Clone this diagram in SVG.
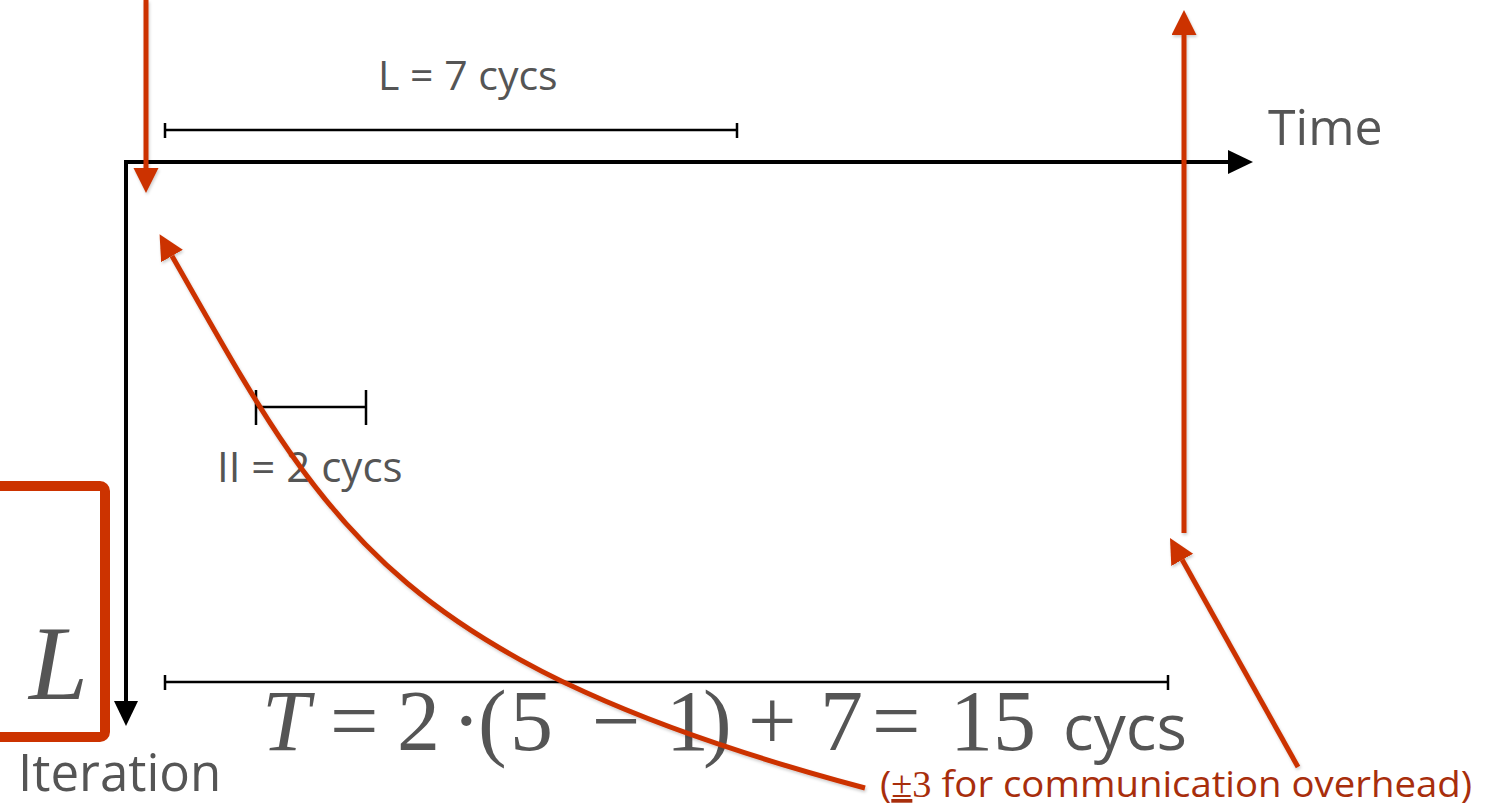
<svg xmlns="http://www.w3.org/2000/svg" width="1493" height="807" viewBox="0 0 1493 807">
<style>
.axis{stroke:#000;stroke-width:4;fill:none}
.dim{stroke:#000;stroke-width:2.5;fill:none}
.red{stroke:#CC3300;stroke-width:5;fill:none;filter:url(#sh)}
.lbl{font-family:"Open Sans","Liberation Sans",sans-serif;fill:#555555}
.math{font-family:"Liberation Serif","DejaVu Serif",serif;fill:#555555}
.note{font-family:"Open Sans","Liberation Sans",sans-serif;fill:#A82E0C}
</style>
<defs>
<filter id="sh" filterUnits="userSpaceOnUse" x="0" y="0" width="1493" height="807">
<feDropShadow dx="1" dy="2" stdDeviation="1.5" flood-color="#000" flood-opacity="0.2"/>
</filter>
<marker id="ab" markerUnits="userSpaceOnUse" markerWidth="26" markerHeight="26" refX="0" refY="12" orient="auto-start-reverse">
<path d="M0,0 L25,12 L0,24 z" fill="#000"/>
</marker>
<marker id="ar" markerUnits="userSpaceOnUse" markerWidth="26" markerHeight="26" refX="0" refY="12.5" orient="auto">
<path d="M0,0 L25,12.5 L0,25 z" fill="#CC3300"/>
</marker>
</defs>

<g id="axes">
<path class="axis" d="M126,701 L126,162 L1228,162" marker-start="url(#ab)" marker-end="url(#ab)"/>
</g>

<g id="time-label"><text class="lbl" x="1268" y="145" font-size="50">Time</text></g>
<g id="iteration-label"><text class="lbl" x="18" y="791" font-size="51">Iteration</text></g>

<g id="L-dim">
<path class="dim" d="M165,130 L737,130 M165,123 L165,138 M737,123 L737,138"/>
<text class="lbl" x="378" y="90" font-size="41">L = 7 cycs</text>
</g>

<g id="II-dim">
<path class="dim" d="M256,407 L366,407 M256,390 L256,425 M366,390 L366,425"/>
<text class="lbl" x="217" y="482" font-size="42">II = 2 cycs</text>
</g>

<g id="T-dim">
<path class="dim" d="M165,682 L1168,682 M165,675 L165,690 M1168,675 L1168,690"/>
<text class="math" y="750" font-size="86"><tspan x="262" font-style="italic">T</tspan><tspan x="330">=</tspan><tspan x="397">2</tspan><tspan x="452">·</tspan><tspan x="478">(</tspan><tspan x="510">5</tspan><tspan x="592">−</tspan><tspan x="666">1</tspan><tspan x="703">)</tspan><tspan x="748">+</tspan><tspan x="820">7</tspan><tspan x="872">=</tspan><tspan x="950">15</tspan><tspan x="1063" class="lbl" font-size="64" font-family="Open Sans, Liberation Sans, sans-serif">cycs</tspan></text>
</g>

<g id="L-box">
<rect x="-20" y="486" width="125" height="251" rx="5" fill="none" stroke="#CC3300" stroke-width="10"/>
<text class="math" x="29" y="699" font-size="106" font-style="italic">L</text>
</g>

<g id="note">
<text class="note" y="797" font-size="37" textLength="592" lengthAdjust="spacingAndGlyphs" x="880">(<tspan font-family="Liberation Serif, serif" text-decoration="underline">±</tspan><tspan font-family="Liberation Serif, serif">3</tspan> for communication overhead)</text>
</g>

<g id="connectors">
<line class="red" x1="146" y1="0" x2="146" y2="168" marker-end="url(#ar)"/>
<line class="red" x1="1184" y1="533" x2="1184" y2="35" marker-end="url(#ar)"/>
<line class="red" x1="1298" y1="767" x2="1182.2" y2="559.8" marker-end="url(#ar)"/>
<path class="red" d="M865,788 C382,659 321,516 172,256" marker-end="url(#ar)"/>
</g>
</svg>
